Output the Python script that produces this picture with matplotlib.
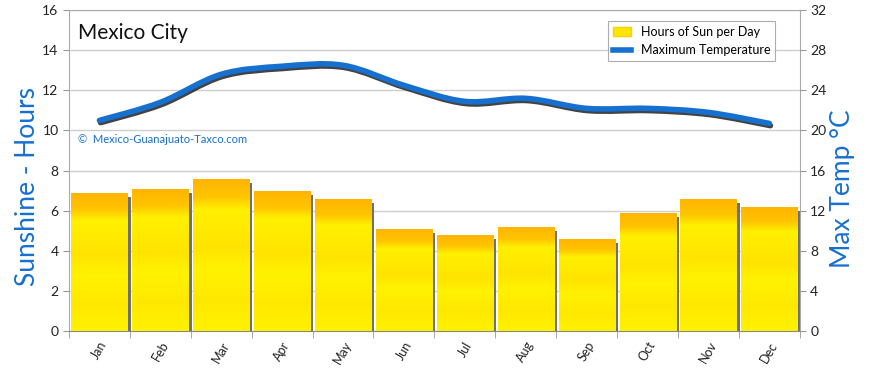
import numpy as np
import matplotlib
matplotlib.use("Agg")
import matplotlib.pyplot as plt
from matplotlib import patheffects as pe
from matplotlib.path import Path
from matplotlib.patches import PathPatch, Patch
from matplotlib.lines import Line2D
from matplotlib.colors import LinearSegmentedColormap

months = ["Jan", "Feb", "Mar", "Apr", "May", "Jun", "Jul", "Aug", "Sep", "Oct", "Nov", "Dec"]
sun_hours = [6.9, 7.1, 7.6, 7.0, 6.6, 5.1, 4.8, 5.2, 4.6, 5.9, 6.6, 6.2]
max_temp = [21.0, 22.8, 25.6, 26.4, 26.5, 24.5, 22.9, 23.2, 22.2, 22.2, 21.8, 20.7]
hour_ticks = [0, 2, 4, 6, 8, 10, 12, 14, 16]
temp_ticks = [0, 4, 8, 12, 16, 20, 24, 28, 32]

BLUE = "#1670d0"
GRID = "#cfcfcf"
INK = "#222222"
plt.rcParams["font.family"] = ["Lato", "DejaVu Sans"]

fig = plt.figure(figsize=(8.7, 3.71), dpi=100)
ax = fig.add_axes([0.0793, 0.1078, 0.840, 0.865])
x = np.arange(len(months))

sun_cmap = LinearSegmentedColormap.from_list(
    "sun", [(0.0, "#ffb400"), (0.12, "#ffc400"), (0.2, "#fff000"),
            (0.45, "#ffe400"), (0.6, "#fff200"), (0.8, "#ffe800"), (1.0, "#fff200")])

# bars with a grey drop shadow on the right
bars = ax.bar(x, sun_hours, width=0.92, color="#fff200", edgecolor="none", zorder=2)
for b in bars:
    b.set_path_effects([pe.SimplePatchShadow(offset=(2.3, -3), shadow_rgbFace="#707070", alpha=1.0),
                        pe.Normal()])
    grad = np.linspace(0, 1, 128).reshape(-1, 1)
    im = ax.imshow(grad, cmap=sun_cmap,
                   extent=(b.get_x(), b.get_x() + b.get_width(), 0, b.get_height()),
                   origin="upper", aspect="auto", zorder=2.1)
    im.set_clip_path(b)

ax.set_xlim(-0.5, 11.5)
ax.set_ylim(0, 16)
ax.set_yticks(hour_ticks)
ax.grid(axis="y", color=GRID, lw=1, zorder=0)
ax.set_axisbelow(True)
ax.set_xticks(x)
ax.set_xticklabels(months, rotation=60, ha="center", va="top", fontsize=9, color=INK)
ax.set_xticks(np.arange(-0.5, 12, 1), minor=True)
ax.tick_params(axis="x", which="major", length=0, pad=6)
ax.tick_params(axis="x", which="minor", length=5, color="#999999")
ax.tick_params(axis="y", length=4, color="#999999", labelsize=10, labelcolor=INK)
for s in ax.spines.values():
    s.set_color("#aaaaaa")
ax.spines["bottom"].set_color("#888888")
ax.set_ylabel("Sunshine - Hours", color=BLUE, fontsize=19)
ax.yaxis.set_label_coords(-0.040, 0.45)

# temperature axis
ax2 = ax.twinx()
ax2.set_ylim(0, 32)
ax2.set_yticks(temp_ticks)
ax2.tick_params(axis="y", length=4, color="#999999", labelsize=10, labelcolor=INK)
for s in ax2.spines.values():
    s.set_visible(False)
ax2.set_ylabel("Max Temp °C", color=BLUE, fontsize=19)
ax2.yaxis.set_label_coords(1.042, 0.445)

# smooth curve through the monthly points (Catmull-Rom as cubic Bezier)
pts = np.column_stack([x, max_temp]).astype(float)
verts = [tuple(pts[0])]
codes = [Path.MOVETO]
for i in range(len(pts) - 1):
    p0 = pts[i - 1] if i > 0 else pts[i]
    p1, p2 = pts[i], pts[i + 1]
    p3 = pts[i + 2] if i + 2 < len(pts) else pts[i + 1]
    c1 = p1 + (p2 - p0) / 6.0
    c2 = p2 - (p3 - p1) / 6.0
    verts += [tuple(c1), tuple(c2), tuple(p2)]
    codes += [Path.CURVE4] * 3
curve = PathPatch(Path(verts, codes), fc="none", ec=BLUE, lw=4, capstyle="round", zorder=4,
                  path_effects=[pe.SimpleLineShadow(offset=(0.8, -1.6), shadow_color="#222222", alpha=0.85),
                                pe.Normal()])
ax2.add_patch(curve)

ax.text(0.012, 0.93, "Mexico City", transform=ax.transAxes, fontsize=15, color="#111111", va="center")
ax.text(0.012, 0.596, "©  Mexico-Guanajuato-Taxco.com", transform=ax.transAxes, fontsize=8,
        color=BLUE, va="center")

handles = [Patch(fc="#ffe600", ec="#ffd000"), Line2D([], [], color=BLUE, lw=4)]
leg = ax2.legend(handles, ["Hours of Sun per Day", "Maximum Temperature"], loc="upper right",
                 bbox_to_anchor=(0.975, 0.985), fontsize=9, frameon=True, fancybox=False,
                 edgecolor="#999999", handlelength=1.4, borderpad=0.4, labelspacing=0.5)
leg.get_frame().set_linewidth(0.8)

fig.savefig("out.png", dpi=100)
